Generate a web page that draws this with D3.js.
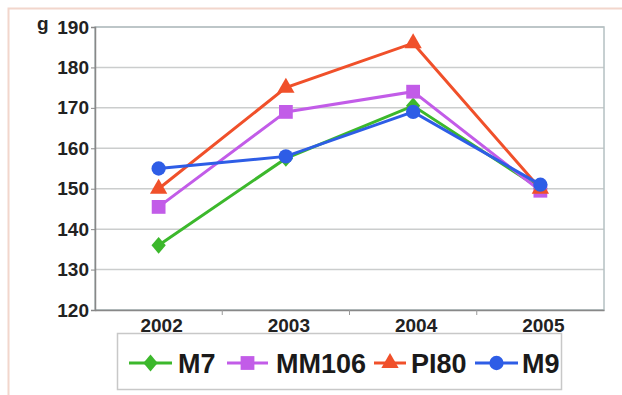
<!DOCTYPE html>
<html>
<head>
<meta charset="utf-8">
<script src="https://cdn.jsdelivr.net/npm/d3@7"></script>
<style>
  body { margin: 0; background: #fff; }
  svg { display: block; font-family: "Liberation Sans", Arial, sans-serif; }
  .tick text { font-weight: bold; fill: #222; }
</style>
</head>
<body>
<div id="chart"></div>
<script>
// data
var years = ["2002", "2003", "2004", "2005"];
var yTicks = [120, 130, 140, 150, 160, 170, 180, 190];
var seriesNames = ["M7", "MM106", "PI80", "M9"];
var m7 = [136, 157.5, 170.5, 150];
var mm106 = [145.5, 169, 174, 149.5];
var pi80 = [150, 175, 186, 150];
var m9 = [155, 158, 169, 151];
var colors = ["#3cb82c", "#c25ce8", "#f0502a", "#2e5de6"];

// small diamond, a bit taller than wide
var diamond = {
  draw: function(ctx, size) {
    var h = Math.sqrt(size) * 0.8, w = h * 0.85;
    ctx.moveTo(0, -h); ctx.lineTo(w, 0); ctx.lineTo(0, h); ctx.lineTo(-w, 0); ctx.closePath();
  }
};
var symbols = [diamond, d3.symbolSquare, d3.symbolTriangle, d3.symbolCircle];
var symSize = [110, 190, 130, 160];

var W = 622, H = 395;
var margin = { top: 27, right: 18, bottom: 85, left: 95 };
var width = W - margin.left - margin.right;
var height = H - margin.top - margin.bottom;

var svg = d3.select("#chart").append("svg")
  .attr("width", W).attr("height", H);

// outer frame
svg.append("path")
  .attr("d", "M8.5,395 L8.5,8.5 L622,8.5")
  .attr("fill", "none")
  .attr("stroke", "#f2d6cc")
  .attr("stroke-width", 2);

var g = svg.append("g")
  .attr("transform", "translate(" + margin.left + "," + margin.top + ")");

var x = d3.scaleBand().domain(years).range([0, width]);
var y = d3.scaleLinear().domain([120, 190]).range([height, 0]);

// gridlines
g.append("g")
  .selectAll("line")
  .data(yTicks)
  .join("line")
  .attr("x1", 0).attr("x2", width)
  .attr("y1", function(d) { return y(d); })
  .attr("y2", function(d) { return y(d); })
  .attr("stroke", "#cbcdcd")
  .attr("stroke-width", 1.5);

// plot border
g.append("rect")
  .attr("x", 0).attr("y", 0)
  .attr("width", width).attr("height", height)
  .attr("fill", "none")
  .attr("stroke", "#b4c0c2")
  .attr("stroke-width", 1.5);

// y axis
var yAxis = g.append("g")
  .call(d3.axisLeft(y).tickValues(yTicks).tickSize(4).tickPadding(2));
yAxis.select(".domain").attr("stroke", "#888").attr("stroke-width", 1.5);
yAxis.selectAll(".tick line").attr("stroke", "#888");
yAxis.selectAll("text").style("font-size", "19px");

// x axis, ticks on band boundaries
var xAxis = g.append("g")
  .attr("transform", "translate(0," + height + ")")
  .call(d3.axisBottom(x).tickSize(0).tickPadding(9));
xAxis.select(".domain").attr("stroke", "#888").attr("stroke-width", 1.5);
xAxis.selectAll("text").style("font-size", "19px").attr("dx", 3);
g.append("g")
  .selectAll("line")
  .data(years.slice(1))
  .join("line")
  .attr("x1", function(d) { return x(d); })
  .attr("x2", function(d) { return x(d); })
  .attr("y1", height).attr("y2", height + 5)
  .attr("stroke", "#999");

// unit label
svg.append("text")
  .attr("x", 37).attr("y", 30)
  .attr("font-size", 19).attr("font-weight", "bold").attr("fill", "#222")
  .text("g");

var allSeries = [m7, mm106, pi80, m9];
var cx = function(i) { return x(years[i]) + x.bandwidth() / 2; };
var line = d3.line()
  .x(function(d, i) { return cx(i); })
  .y(function(d) { return y(d); });

allSeries.forEach(function(vals, s) {
  g.append("path")
    .datum(vals)
    .attr("d", line)
    .attr("fill", "none")
    .attr("stroke", colors[s])
    .attr("stroke-width", 3);
  g.append("g")
    .selectAll("path")
    .data(vals)
    .join("path")
    .attr("transform", function(d, i) { return "translate(" + cx(i) + "," + y(d) + ")"; })
    .attr("d", d3.symbol().type(symbols[s]).size(symSize[s]))
    .attr("fill", colors[s]);
});

// legend
var legend = svg.append("g");
legend.append("rect")
  .attr("x", 117.5).attr("y", 333.5)
  .attr("width", 444).attr("height", 56)
  .attr("fill", "#fff")
  .attr("stroke", "#c8c8c8")
  .attr("stroke-width", 1.5);
// line start, line end, text start for each entry
var legLine = [[129, 172, 178], [227, 268, 276], [374, 406, 411], [475, 518, 522]];
var legY = 363;
seriesNames.forEach(function(name, s) {
  var p = legLine[s];
  legend.append("line")
    .attr("x1", p[0]).attr("x2", p[1])
    .attr("y1", legY).attr("y2", legY)
    .attr("stroke", colors[s]).attr("stroke-width", 3);
  legend.append("path")
    .attr("transform", "translate(" + ((p[0] + p[1]) / 2) + "," + legY + ")")
    .attr("d", d3.symbol().type(symbols[s]).size(symSize[s]))
    .attr("fill", colors[s]);
  legend.append("text")
    .attr("x", p[2]).attr("y", legY + 9.5)
    .attr("font-size", 27).attr("font-weight", "bold").attr("fill", "#1a1a1a")
    .text(name);
});
</script>
</body>
</html>
